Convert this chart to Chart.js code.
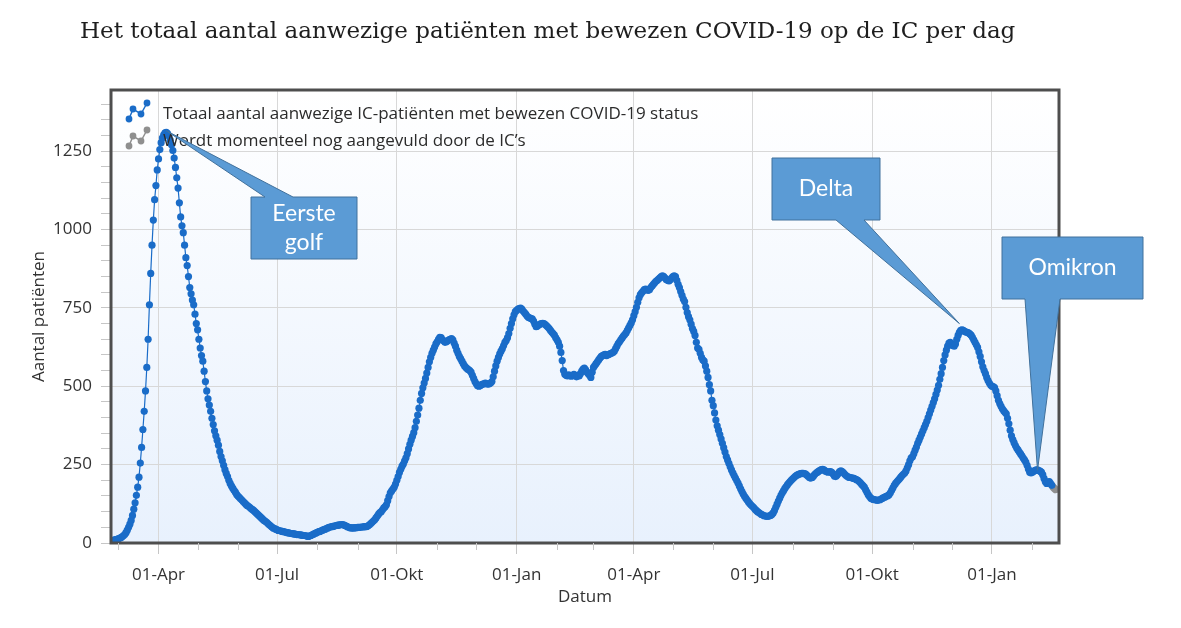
<!DOCTYPE html>
<html>
<head>
<meta charset="utf-8">
<script src="https://cdn.jsdelivr.net/npm/chart.js@4.4.1/dist/chart.umd.min.js"></script>
<style>
  html, body { margin: 0; padding: 0; background: #fff; }
  #wrap { position: relative; width: 1181px; height: 628px; }
  #title { position: absolute; left: 80px; top: 17px; font: 23px "DejaVu Serif"; color: #1e1e1e; white-space: nowrap; }
  canvas { position: absolute; left: 0; top: 0; }
</style>
</head>
<body>
<div id="wrap">
  <canvas id="chart" width="1181" height="628"></canvas>
  <div id="title">Het totaal aantal aanwezige patiënten met bewezen COVID-19 op de IC per dag</div>
</div>
<script>
// IC-bezetting per dag (een array per maand)
const feb20 = [10, 11, 12];
const mar20 = [13,15,17,20,23,27,33,41,50,60,72,88,108,128,152,178,210,255,305,362,420,485,560,650,760,860,950,1030,1095,1140,1190];
const apr20 = [1225,1255,1277,1292,1302,1308,1310,1306,1298,1285,1270,1252,1228,1198,1165,1132,1085,1040,1012,990,950,910,885,850,815,795,775,760,730,700];
const may20 = [680,650,622,598,580,548,515,485,460,440,420,398,378,358,342,328,312,292,276,262,248,234,222,212,200,190,182,175,168,162,155];
const jun20 = [150,146,141,137,132,128,124,120,117,114,110,107,104,100,96,92,88,84,80,76,72,69,66,62,58,55,51,48,46,44];
const jul20 = [42,40,39,38,37,36,35,34,33,32,31,30,30,29,28,27,27,26,26,25,24,24,23,22,21,22,24,26,28,30,32];
const aug20 = [34,36,37,39,41,43,44,46,48,50,51,52,53,54,55,56,57,58,58,59,58,56,54,52,50,49,48,48,48,49,49];
const sep20 = [50,50,50,51,51,52,52,53,55,58,62,66,70,74,80,86,92,97,100,106,112,116,122,135,148,160,166,172,178,188];
const oct20 = [200,212,225,235,245,252,262,272,285,300,315,328,340,352,368,388,408,430,455,477,495,510,525,542,560,578,592,605,615,625,635];
const nov20 = [642,650,656,655,648,645,640,642,645,648,650,652,648,638,628,615,605,595,588,580,572,565,560,556,553,550,545,535,525,515];
const dec20 = [508,502,500,502,505,507,508,510,508,507,508,510,515,530,548,565,580,592,603,612,620,630,640,646,655,668,685,700,715,728,738];
const jan21 = [742,746,748,749,746,740,735,730,724,720,718,716,715,708,698,690,692,695,698,700,701,700,697,693,689,684,678,673,668,663,655];
const feb21 = [648,640,628,608,582,550,538,535,533,536,534,532,535,538,534,530,535,533,540,548,555,558,552,545,540,535,528,545];
const mar21 = [560,566,572,578,584,590,595,598,600,602,598,600,602,604,606,608,612,620,628,636,642,648,654,660,665,670,678,686,694,702,712];
const apr21 = [725,738,752,768,782,792,798,803,808,810,808,806,808,815,820,825,830,835,838,842,846,850,852,850,845,840,838,836,840,845];
const may21 = [850,852,850,838,825,815,802,790,778,770,752,735,722,712,698,684,675,662,640,622,618,605,592,584,580,565,548,528,505,485,455];
const jun21 = [438,415,392,374,360,346,332,318,304,290,276,265,254,243,233,224,215,207,199,191,182,173,164,156,149,143,137,131,126,121];
const jul21 = [117,113,108,104,100,97,94,91,89,87,86,85,85,86,88,91,96,104,114,124,134,143,152,160,167,174,180,186,191,196,201];
const aug21 = [205,209,213,216,218,220,221,222,222,221,220,216,212,208,207,209,214,219,223,226,229,232,234,235,233,230,228,226,227,228,225];
const sep21 = [220,214,212,216,222,228,230,228,224,219,215,212,210,209,208,207,206,204,202,200,196,192,187,183,178,170,162,154,148,143];
const oct21 = [140,139,138,137,136,137,138,140,143,145,147,149,151,154,160,168,176,184,190,195,200,205,210,215,219,223,230,240,250,262,272];
const nov21 = [275,285,296,306,318,328,338,348,358,368,378,388,400,412,424,436,448,460,474,488,503,522,540,560,582,600,615,628,638,640];
const dec21 = [636,630,628,635,650,662,672,678,680,678,675,673,672,670,667,663,656,648,640,632,624,610,595,578,562,550,540,528,518,510,504];
const jan22 = [500,499,496,485,470,455,445,436,428,422,417,412,398,380,360,342,330,320,311,303,297,290,284,278,271,265,258,248,236,226,224];
const feb22 = [226,229,231,233,233,231,229,226,218,206,195,190,194,196,190,184];
// laatste dagen: wordt nog aangevuld (start op de laatste blauwe dag)
const pendingStart = '2022-02-16';
const pendingValues = [184, 178, 174, 170];

const monthStarts = [
  ['2020-02-27', feb20], ['2020-03-01', mar20], ['2020-04-01', apr20], ['2020-05-01', may20],
  ['2020-06-01', jun20], ['2020-07-01', jul20], ['2020-08-01', aug20], ['2020-09-01', sep20],
  ['2020-10-01', oct20], ['2020-11-01', nov20], ['2020-12-01', dec20], ['2021-01-01', jan21],
  ['2021-02-01', feb21], ['2021-03-01', mar21], ['2021-04-01', apr21], ['2021-05-01', may21],
  ['2021-06-01', jun21], ['2021-07-01', jul21], ['2021-08-01', aug21], ['2021-09-01', sep21],
  ['2021-10-01', oct21], ['2021-11-01', nov21], ['2021-12-01', dec21], ['2022-01-01', jan22],
  ['2022-02-01', feb22]
];

const monthNames = ['Jan','Feb','Mrt','Apr','Mei','Jun','Jul','Aug','Sep','Okt','Nov','Dec'];
const firstDate = '2020-02-27', lastDate = '2022-02-19';
const yMax = 1445;

const callouts = [
  { text: ['Eerste', 'golf'], target: ['2020-04-07', 1315], box: [251, 197, 357, 259], side: 'top', base: [265, 293] },
  { text: ['Delta'], target: ['2021-12-07', 700], box: [772, 158, 880, 220], side: 'bottom', base: [836, 864] },
  { text: ['Omikron'], target: ['2022-02-05', 232], box: [1002, 237, 1143, 299], side: 'bottom', base: [1025, 1060] }
];

const BLUE = '#1a6cc8', GREY = '#8f8f8f', FONT = 'Open Sans';

function dayOf(s) {
  const [y, m, d] = s.split('-').map(Number);
  return Math.round((Date.UTC(y, m - 1, d) - Date.UTC(2020, 0, 1)) / 864e5);
}
function dateOfDay(v) { return new Date(Date.UTC(2020, 0, 1) + Math.round(v) * 864e5); }

const blueData = [];
monthStarts.forEach(([start, vals]) => {
  const d0 = dayOf(start);
  vals.forEach((v, i) => blueData.push({ x: d0 + i, y: v }));
});
const greyData = pendingValues.map((v, i) => ({ x: dayOf(pendingStart) + i, y: v }));

const xTicks = [];
for (let y = 2020; y <= 2022; y++) for (let m = 0; m < 12; m++) {
  const d = Math.round((Date.UTC(y, m, 1) - Date.UTC(2020, 0, 1)) / 864e5);
  if (d > dayOf(firstDate) && d < dayOf(lastDate)) xTicks.push(d);
}
const yTicks = [];
for (let v = 0; v <= 1400; v += 50) yTicks.push(v);

function isQuarter(v) { return dateOfDay(v).getUTCMonth() % 3 === 0; }

const plotBackground = {
  id: 'plotBackground',
  beforeDraw(chart) {
    const { ctx, chartArea: a } = chart;
    const g = ctx.createLinearGradient(0, a.top, 0, a.bottom);
    g.addColorStop(0, '#ffffff');
    g.addColorStop(1, '#e8f1fd');
    ctx.save();
    ctx.fillStyle = g;
    ctx.fillRect(a.left, a.top, a.right - a.left, a.bottom - a.top);
    ctx.restore();
  }
};

// korte maandstreepjes onder de x-as (kwartalen tekent Chart.js zelf, langer)
const minorTicks = {
  id: 'minorTicks',
  afterDraw(chart) {
    const { ctx, chartArea: a, scales } = chart;
    ctx.save();
    ctx.strokeStyle = '#c6c6c6';
    ctx.lineWidth = 1;
    xTicks.filter(v => !isQuarter(v)).forEach(v => {
      const x = Math.round(scales.x.getPixelForValue(v)) + 0.5;
      ctx.beginPath();
      ctx.moveTo(x, a.bottom);
      ctx.lineTo(x, a.bottom + 7);
      ctx.stroke();
    });
    ctx.restore();
  }
};

const plotFrame = {
  id: 'plotFrame',
  afterDatasetsDraw(chart) {
    const { ctx, chartArea: a } = chart;
    ctx.save();
    ctx.strokeStyle = '#4e4e4e';
    ctx.lineWidth = 3;
    ctx.strokeRect(a.left, a.top, a.right - a.left, a.bottom - a.top);
    ctx.restore();
  }
};

function drawIcon(ctx, x, y, color) {
  const pts = [[0, 16], [4, 6], [12, 11], [18, 0]];
  ctx.strokeStyle = color;
  ctx.fillStyle = color;
  ctx.lineWidth = 1.5;
  ctx.beginPath();
  pts.forEach(([px, py], i) => i ? ctx.lineTo(x + px, y + py) : ctx.moveTo(x + px, y + py));
  ctx.stroke();
  pts.forEach(([px, py]) => { ctx.beginPath(); ctx.arc(x + px, y + py, 3.4, 0, Math.PI * 2); ctx.fill(); });
}

const plotLegend = {
  id: 'plotLegend',
  afterDraw(chart) {
    const { ctx, chartArea: a } = chart;
    const items = chart.data.datasets;
    ctx.save();
    ctx.font = '17px "' + FONT + '"';
    ctx.textBaseline = 'middle';
    items.forEach((ds, i) => {
      const y = a.top + 24 + i * 27;
      drawIcon(ctx, a.left + 18, y - 11, ds.borderColor);
      ctx.fillStyle = '#2b2b2b';
      ctx.fillText(ds.label, a.left + 52, y);
    });
    ctx.restore();
  }
};

const plotCallouts = {
  id: 'plotCallouts',
  afterDraw(chart) {
    const { ctx, scales } = chart;
    ctx.save();
    callouts.forEach(c => {
      const tx = scales.x.getPixelForValue(dayOf(c.target[0]));
      const ty = scales.y.getPixelForValue(c.target[1]);
      const [l, t, r, b] = c.box;
      ctx.beginPath();
      if (c.side === 'top') {
        ctx.moveTo(l, t); ctx.lineTo(c.base[0], t); ctx.lineTo(tx, ty); ctx.lineTo(c.base[1], t);
        ctx.lineTo(r, t); ctx.lineTo(r, b); ctx.lineTo(l, b);
      } else {
        ctx.moveTo(l, t); ctx.lineTo(r, t); ctx.lineTo(r, b); ctx.lineTo(c.base[1], b);
        ctx.lineTo(tx, ty); ctx.lineTo(c.base[0], b); ctx.lineTo(l, b);
      }
      ctx.closePath();
      ctx.fillStyle = '#5b9bd5';
      ctx.fill();
      ctx.strokeStyle = '#41719c';
      ctx.lineWidth = 1;
      ctx.stroke();
      ctx.fillStyle = '#ffffff';
      ctx.font = '23px Lato';
      ctx.textAlign = 'center';
      ctx.textBaseline = 'middle';
      const cx = (l + r) / 2, cy = (t + b) / 2, lh = 29;
      c.text.forEach((line, i) => ctx.fillText(line, cx, cy + (i - (c.text.length - 1) / 2) * lh));
    });
    ctx.restore();
  }
};

const axisFont = { family: FONT, size: 17 };

new Chart(document.getElementById('chart'), {
  type: 'line',
  data: {
    datasets: [
      {
        label: 'Totaal aantal aanwezige IC-patiënten met bewezen COVID-19 status',
        data: blueData,
        borderColor: BLUE, backgroundColor: BLUE,
        borderWidth: 1.2, pointRadius: 3.6, pointBorderWidth: 0,
        pointBackgroundColor: BLUE, tension: 0
      },
      {
        label: 'Wordt momenteel nog aangevuld door de IC’s',
        data: greyData,
        borderColor: GREY, backgroundColor: GREY,
        borderWidth: 1.2, pointRadius: 3.6, pointBorderWidth: 0,
        pointBackgroundColor: GREY, tension: 0
      }
    ]
  },
  options: {
    responsive: false,
    animation: false,
    events: [],
    layout: { padding: { left: 25, right: 122, top: 90, bottom: 17 } },
    plugins: { legend: { display: false }, tooltip: { enabled: false }, title: { display: false } },
    scales: {
      x: {
        type: 'linear',
        min: dayOf(firstDate) - 2.5,
        max: dayOf(lastDate) + 2.5,
        afterFit: s => { s.height = 68; },
        afterBuildTicks: s => { s.ticks = xTicks.map(v => ({ value: v })); },
        ticks: {
          autoSkip: false, maxRotation: 0, padding: 11, color: '#333', font: axisFont,
          callback: v => isQuarter(v) ? '01-' + monthNames[dateOfDay(v).getUTCMonth()] : ''
        },
        grid: {
          color: c => (c.tick && isQuarter(c.tick.value)) ? '#d8d8d8' : 'rgba(0,0,0,0)',
          tickColor: c => (c.tick && isQuarter(c.tick.value)) ? '#c6c6c6' : 'rgba(0,0,0,0)',
          tickLength: 11, lineWidth: 1
        },
        border: { display: false },
        title: { display: true, text: 'Datum', color: '#333', font: axisFont, padding: { top: 2, bottom: 4 } }
      },
      y: {
        min: 0, max: yMax,
        afterFit: s => { s.width = 86; },
        afterBuildTicks: s => { s.ticks = yTicks.map(v => ({ value: v })); },
        ticks: {
          autoSkip: false, padding: 9, color: '#333', font: axisFont,
          callback: v => v % 250 === 0 ? String(v) : ''
        },
        grid: {
          color: c => (c.tick && c.tick.value % 250 === 0 && c.tick.value > 0) ? '#d8d8d8' : 'rgba(0,0,0,0)',
          tickColor: '#c6c6c6', tickLength: 10
        },
        border: { display: false },
        title: { display: true, text: 'Aantal patiënten', color: '#333', font: axisFont, padding: { top: 4, bottom: 4 } }
      }
    }
  },
  plugins: [plotBackground, plotFrame, minorTicks, plotLegend, plotCallouts]
});
</script>
</body>
</html>
